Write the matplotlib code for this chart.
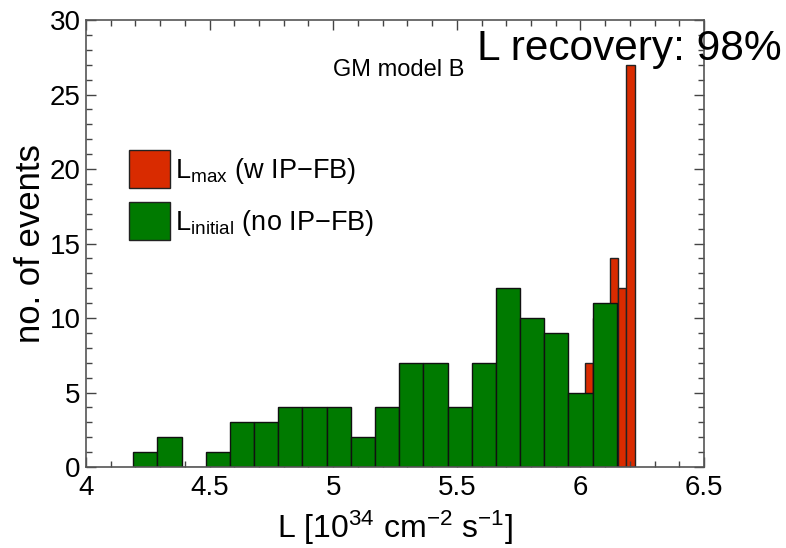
import matplotlib
matplotlib.use("Agg")
import matplotlib.pyplot as plt
from matplotlib.patches import Patch
from matplotlib.ticker import MultipleLocator
import numpy as np

plt.rcParams["font.family"] = ["Liberation Sans", "DejaVu Sans"]
plt.rcParams["mathtext.fontset"] = "custom"
plt.rcParams["mathtext.rm"] = "Liberation Sans"
plt.rcParams["mathtext.it"] = "Liberation Sans:italic"

# initial luminosity histogram (no IP-FB): 20 bins
init_lo, init_hi, init_nbins = 4.191, 6.147, 20
init_counts = [1, 2, 0, 1, 3, 3, 4, 4, 4, 2, 4, 7, 7, 4, 7, 12, 10, 9, 5, 11]

# maximum luminosity histogram (with IP-FB): narrow bins near the top
max_lo, max_width = 6.019, 0.0334
max_counts = [7, 10, 10, 14, 12, 27]

green = "#007a00"
red = "#d92b00"

fig = plt.figure(figsize=(7.86, 5.48), dpi=100)
ax = fig.add_axes([0.1094, 0.1478, 0.7863, 0.8157])

init_edges = np.linspace(init_lo, init_hi, init_nbins + 1)
max_edges = max_lo + max_width * np.arange(len(max_counts) + 1)

ax.bar(max_edges[:-1], max_counts, width=np.diff(max_edges), align="edge",
       color=red, edgecolor="#222222", linewidth=1.0, zorder=1)
ax.bar(init_edges[:-1], init_counts, width=np.diff(init_edges), align="edge",
       color=green, edgecolor="#111111", linewidth=1.0, zorder=2)

ax.set_xlim(4, 6.5)
ax.set_ylim(0, 30)
ax.xaxis.set_major_locator(MultipleLocator(0.5))
ax.xaxis.set_minor_locator(MultipleLocator(0.1))
ax.yaxis.set_major_locator(MultipleLocator(5))
ax.yaxis.set_minor_locator(MultipleLocator(1))
ax.set_xticks([4, 4.5, 5, 5.5, 6, 6.5], ["4", "4.5", "5", "5.5", "6", "6.5"])
ax.tick_params(which="both", direction="in", top=True, right=True,
               color="#444444", width=1.0, labelsize=20)
ax.tick_params(axis="x", pad=6)
ax.tick_params(axis="y", pad=4)
ax.tick_params(which="major", length=7)
ax.tick_params(which="minor", length=4)
for sp in ax.spines.values():
    sp.set_color("#555555")
    sp.set_linewidth(1.2)

ax.set_xlabel(r"L [10$^{34}$ cm$^{-2}$ s$^{-1}$]", fontsize=23, labelpad=5)
ax.set_ylabel("no. of events", fontsize=25, labelpad=2)

handles = [Patch(facecolor=red, edgecolor="#222222"),
           Patch(facecolor=green, edgecolor="#222222")]
labels = [r"L$_{\mathrm{max}}$ (w IP−FB)", r"L$_{\mathrm{initial}}$ (no IP−FB)"]
ax.legend(handles, labels, loc="upper left", bbox_to_anchor=(0.0696, 0.709),
          frameon=False, fontsize=19.5, handlelength=1.5, handleheight=1.75,
          handletextpad=0.18, labelspacing=0.55, borderpad=0,
          borderaxespad=0)

ax.text(0.5057, 0.8747, "GM model B", transform=ax.transAxes, fontsize=17,
        ha="center", va="baseline")
fig.text(0.607, 1 - 60 / 548, "L recovery: 98%", fontsize=30.5,
         ha="left", va="baseline")

fig.savefig("out.png", dpi=100)
